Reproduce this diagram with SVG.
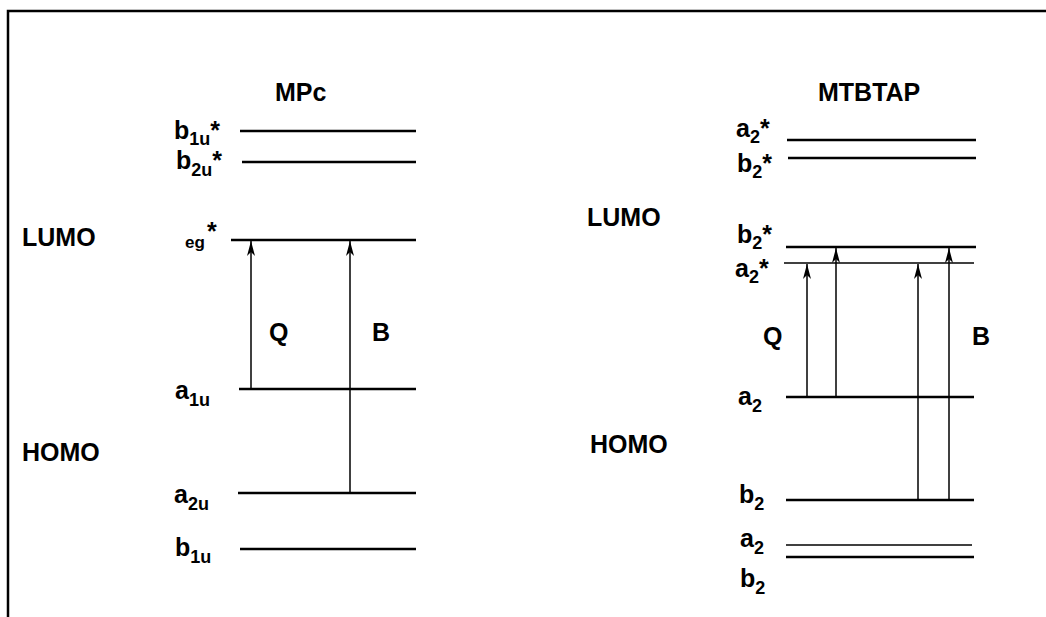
<svg xmlns="http://www.w3.org/2000/svg" width="1046" height="617" viewBox="0 0 1046 617">
  <style>
    text { font-family: "Liberation Sans", Arial, sans-serif; font-weight: bold; fill: #000; }
    .lbl { font-size: 25px; }
    .sub { font-size: 18px; }
    .small { font-size: 17px; }
    .lvl { stroke: #000; stroke-width: 2.5; fill: none; }
    .lvl-thin { stroke: #000; stroke-width: 1.5; fill: none; }
    .arr { stroke: #000; stroke-width: 1.5; fill: none; marker-end: url(#head); }
  </style>
  <defs>
    <marker id="head" markerUnits="userSpaceOnUse" markerWidth="16" markerHeight="10" viewBox="-15 -5 16 10" refX="0" refY="0" orient="auto">
      <path d="M0,0 L-15,-4 L-11,0 L-15,4 Z" fill="#000"/>
    </marker>
  </defs>

  <rect width="1046" height="617" fill="#fff"/>
  <!-- frame -->
  <path d="M8,617 V11 H1046" stroke="#000" stroke-width="2.5" fill="none"/>

  <!-- MPc column -->
  <g id="mpc-title"><text class="lbl" x="275" y="101">MPc</text></g>
  <g id="mpc-lumo-label"><text class="lbl" x="22" y="246">LUMO</text></g>
  <g id="mpc-homo-label"><text class="lbl" x="22" y="461">HOMO</text></g>

  <g id="mpc-b1u-star">
    <line class="lvl" x1="240" y1="131" x2="416" y2="131"/>
    <text class="lbl" x="174" y="139">b<tspan class="sub" dy="6">1u</tspan><tspan dy="-6">*</tspan></text>
  </g>
  <g id="mpc-b2u-star">
    <line class="lvl" x1="242" y1="162" x2="416" y2="162"/>
    <text class="lbl" x="176" y="169">b<tspan class="sub" dy="7">2u</tspan><tspan dy="-7">*</tspan></text>
  </g>
  <g id="mpc-eg-star">
    <line class="lvl" x1="231" y1="240" x2="416" y2="240"/>
    <text class="small" x="185" y="248">eg</text>
    <text class="lbl" x="207" y="240">*</text>
  </g>
  <g id="mpc-a1u">
    <line class="lvl" x1="239" y1="389" x2="416" y2="389"/>
    <text class="lbl" x="175" y="399">a<tspan class="sub" dy="7">1u</tspan></text>
  </g>
  <g id="mpc-a2u">
    <line class="lvl" x1="238" y1="493" x2="416" y2="493"/>
    <text class="lbl" x="174" y="503">a<tspan class="sub" dy="7">2u</tspan></text>
  </g>
  <g id="mpc-b1u">
    <line class="lvl" x1="240" y1="549" x2="416" y2="549"/>
    <text class="lbl" x="175" y="556">b<tspan class="sub" dy="7">1u</tspan></text>
  </g>

  <!-- MTBTAP column -->
  <g id="mtbtap-title"><text class="lbl" x="818" y="101">MTBTAP</text></g>
  <g id="mtbtap-lumo-label"><text class="lbl" x="587" y="226">LUMO</text></g>
  <g id="mtbtap-homo-label"><text class="lbl" x="590" y="453">HOMO</text></g>

  <g id="mtbtap-a2-star-top">
    <line class="lvl" x1="787" y1="140" x2="976" y2="140"/>
    <text class="lbl" x="736" y="137">a<tspan class="sub" dy="6">2</tspan><tspan dy="-6">*</tspan></text>
  </g>
  <g id="mtbtap-b2-star-top">
    <line class="lvl" x1="788" y1="158" x2="976" y2="158"/>
    <text class="lbl" x="737" y="172">b<tspan class="sub" dy="6">2</tspan><tspan dy="-6">*</tspan></text>
  </g>
  <g id="mtbtap-b2-star">
    <line class="lvl" x1="786" y1="247" x2="976" y2="247"/>
    <text class="lbl" x="737" y="243">b<tspan class="sub" dy="6">2</tspan><tspan dy="-6">*</tspan></text>
  </g>
  <g id="mtbtap-a2-star">
    <line class="lvl-thin" x1="784" y1="263" x2="974" y2="263"/>
    <text class="lbl" x="735" y="277">a<tspan class="sub" dy="6">2</tspan><tspan dy="-6">*</tspan></text>
  </g>
  <g id="mtbtap-a2">
    <line class="lvl" x1="786" y1="397" x2="974" y2="397"/>
    <text class="lbl" x="738" y="405">a<tspan class="sub" dy="7">2</tspan></text>
  </g>
  <g id="mtbtap-b2">
    <line class="lvl" x1="786" y1="500" x2="974" y2="500"/>
    <text class="lbl" x="739" y="503">b<tspan class="sub" dy="7">2</tspan></text>
  </g>
  <g id="mtbtap-a2-low">
    <line class="lvl-thin" x1="786" y1="545" x2="972" y2="545"/>
    <text class="lbl" x="740" y="547">a<tspan class="sub" dy="7">2</tspan></text>
  </g>
  <g id="mtbtap-b2-low">
    <line class="lvl" x1="786" y1="557" x2="974" y2="557"/>
    <text class="lbl" x="740" y="587">b<tspan class="sub" dy="7">2</tspan></text>
  </g>

  <!-- transition arrows -->
  <g id="connectors">
    <line class="arr" x1="251" y1="389" x2="251" y2="241"/>
    <line class="arr" x1="350" y1="493" x2="350" y2="241"/>
    <line class="arr" x1="807" y1="397" x2="807" y2="264"/>
    <line class="arr" x1="836" y1="397" x2="836" y2="248"/>
    <line class="arr" x1="918" y1="500" x2="918" y2="264"/>
    <line class="arr" x1="949" y1="500" x2="949" y2="248"/>
  </g>

  <g id="transition-labels">
    <text class="lbl" x="269" y="341">Q</text>
    <text class="lbl" x="372" y="341">B</text>
    <text class="lbl" x="763" y="345">Q</text>
    <text class="lbl" x="972" y="345">B</text>
  </g>
</svg>
